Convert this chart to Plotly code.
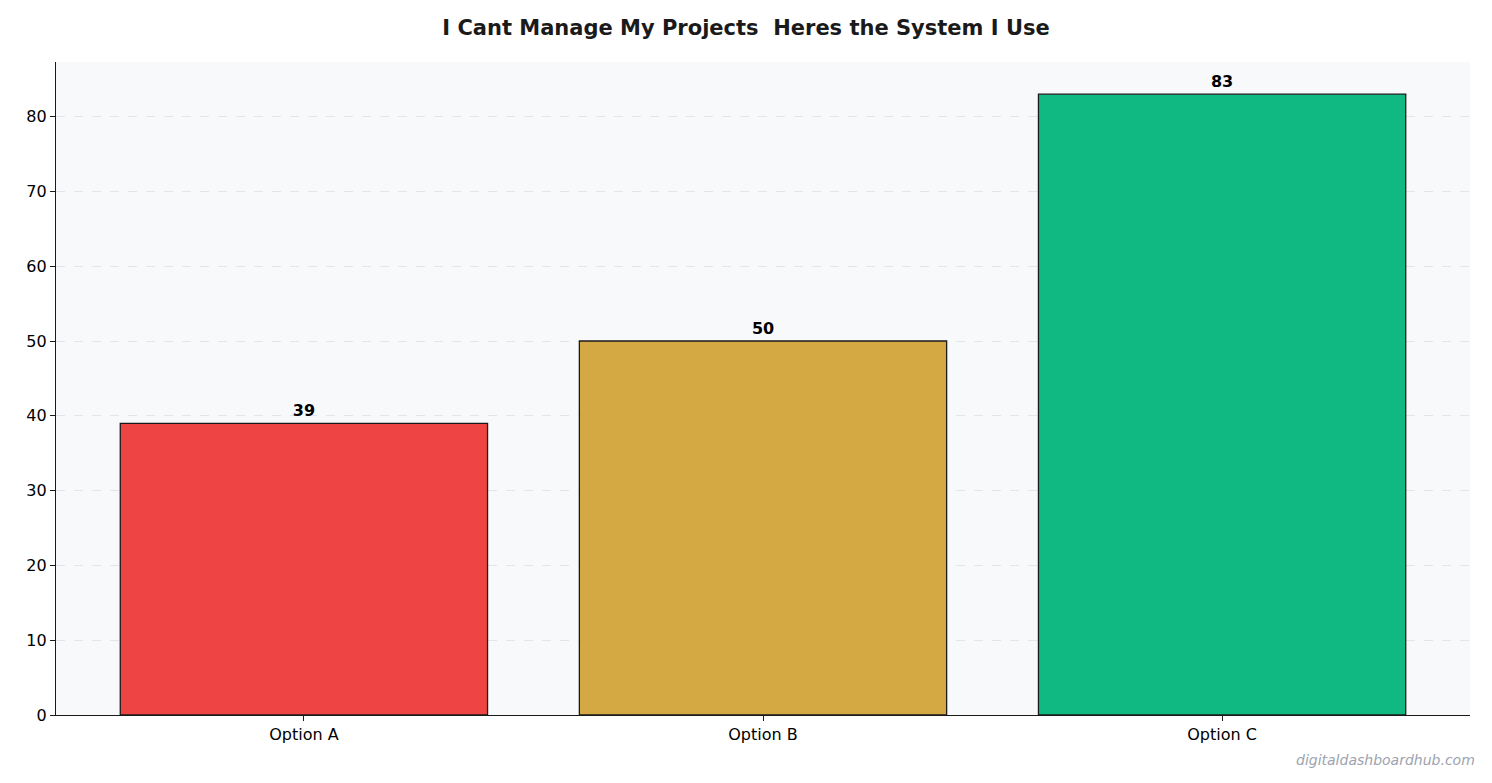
import plotly.graph_objects as go

categories = ["Option A", "Option B", "Option C"]
values = [39, 50, 83]
colors = ["#EF4444", "#D4A843", "#10B981"]

fig = go.Figure()
fig.add_trace(go.Bar(
    x=categories, y=values, width=0.8,
    marker=dict(color=colors, line=dict(color="#1a1a1a", width=1.3)),
    text=[str(v) for v in values], textposition="outside",
    textfont=dict(family="DejaVu Sans", size=16, color="black", weight="bold"),
    cliponaxis=False,
))

fig.update_layout(
    width=1476, height=767,
    margin=dict(l=48, r=14, t=54, b=60, pad=0),
    paper_bgcolor="white", plot_bgcolor="#F8F9FA",
    font=dict(family="DejaVu Sans", size=16, color="black"),
    title=dict(text="<b>I Cant Manage My Projects  Heres the System I Use</b>",
               x=0.5, xanchor="center", y=0.975, yanchor="middle",
               font=dict(size=21, color="#1a1a1a")),
    showlegend=False,
    bargap=0.2,
)
fig.update_xaxes(range=[-0.54, 2.54], showline=True, linecolor="#1a1a1a", linewidth=1.3,
                 ticks="outside", ticklen=5, tickcolor="#1a1a1a", showgrid=False,
                 tickfont=dict(size=16))
fig.update_yaxes(range=[0, 87.3], dtick=10, showline=True, linecolor="#1a1a1a", linewidth=1.3,
                 ticks="outside", ticklen=5, tickcolor="#1a1a1a",
                 showgrid=True, gridcolor="#E3E5E8", griddash="dash", gridwidth=1,
                 zeroline=False, tickfont=dict(size=16))
fig.add_annotation(text="<i>digitaldashboardhub.com</i>", xref="paper", yref="paper",
                   x=1.005, y=-0.069, xanchor="right", yanchor="middle", showarrow=False,
                   font=dict(size=14, color="#9CA3AF"))

fig.write_html("out.html")
